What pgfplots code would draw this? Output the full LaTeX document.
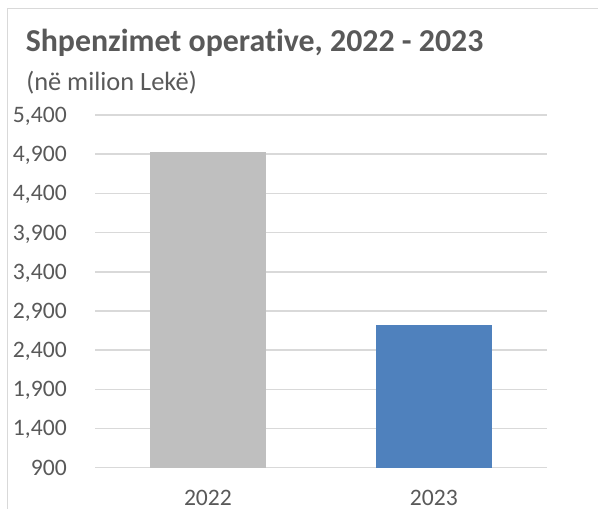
\documentclass[border=0pt]{standalone}
\usepackage{pgfplots}
\pgfplotsset{compat=1.18}
\usepackage{fontspec}
\setmainfont[Ligatures=NoCommon]{Carlito}
\definecolor{txt}{HTML}{595959}
\definecolor{gridc}{HTML}{D9D9D9}
\definecolor{bargray}{HTML}{BFBFBF}
\definecolor{barblue}{HTML}{4F81BD}
\newcommand\PX[2]{({#1*0.75pt},{(509-#2)*0.75pt})}
\begin{document}
\begin{tikzpicture}
\useasboundingbox \PX{0}{0} rectangle \PX{598}{509};
\draw[gridc, line width=1pt] \PX{7.5}{509} -- \PX{7.5}{8.7} -- \PX{598}{8.7};
\node[anchor=base west, inner sep=0pt, text=txt, font=\fontsize{23.9}{28}\selectfont\bfseries] at \PX{25.5}{51.7} {Shpenzimet operative, 2022 - 2023};
\node[anchor=base west, inner sep=0pt, text=txt, font=\fontsize{19.8}{23}\selectfont] at \PX{26}{91} {(në milion Lekë)};
\begin{axis}[
  at={(71.25pt,30.975pt)}, anchor=south west,
  scale only axis, width=338.8pt, height=264.5pt,
  xmin=-0.5, xmax=1.5, ymin=900, ymax=5400,
  ytick={900,1400,...,5400},
  xtick={0,1}, xticklabels={2022,2023},
  axis line style={draw=none},
  major tick length=0pt,
  ymajorgrids, major grid style={draw=gridc, line width=1.1pt},
  /pgf/number format/assume math mode=true,
  /pgf/number format/1000 sep={,},
  scaled y ticks=false,
  tick label style={text=txt, font=\fontsize{17.7}{21}\selectfont},
  yticklabel style={anchor=base east, inner sep=0pt, xshift=-21pt, yshift=-5.6pt},
  xticklabel style={anchor=base, inner sep=0pt, yshift=-28.7pt},
  ybar, bar width=86.8pt,
]
\addplot[draw=none, fill=bargray, bar shift=0pt] coordinates {(0,4925)};
\addplot[draw=none, fill=barblue, bar shift=0pt] coordinates {(1,2720)};
\end{axis}
\end{tikzpicture}
\end{document}
